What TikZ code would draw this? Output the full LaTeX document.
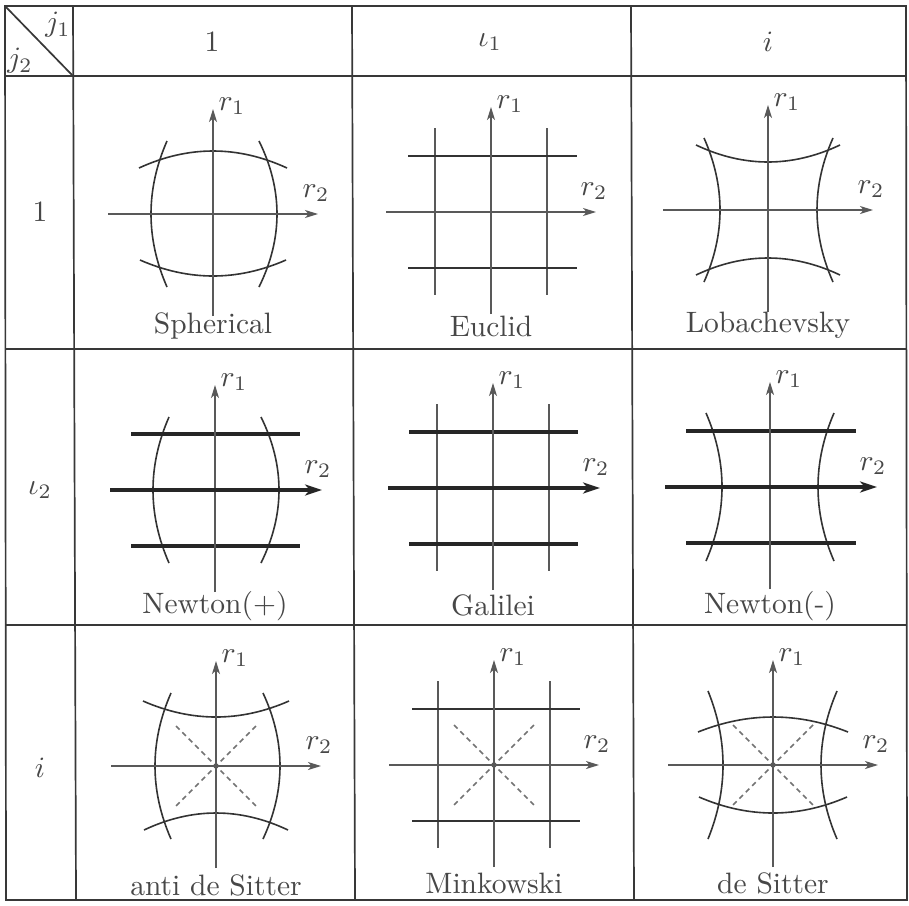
\documentclass[tikz,border=0pt]{standalone}
\usetikzlibrary{arrows.meta}
\newcommand{\myharc}[3]{\draw[curve] (-#3,#1) .. controls ({-(#3)/3},{(4*(#2)-(#1))/3}) and ({(#3)/3},{(4*(#2)-(#1))/3}) .. (#3,#1);}
\newcommand{\myvarc}[3]{\draw[curve] (#1,-#3) .. controls ({(4*(#2)-(#1))/3},{-(#3)/3}) and ({(4*(#2)-(#1))/3},{(#3)/3}) .. (#1,#3);}
\tikzset{
 tbl/.style={line width=1.7pt, draw=black!78},
 axisline/.style={line width=1.4pt, draw=black!65, -{Stealth[length=13pt,width=8pt,inset=3.5pt]}},
 thickaxis/.style={line width=3.2pt, draw=black!85, -{Stealth[length=17pt,width=11pt,inset=5pt]}},
 curve/.style={line width=1.6pt, draw=black!80},
 gridv/.style={line width=1.5pt, draw=black!65},
 gridh/.style={line width=1.6pt, draw=black!80},
 thickline/.style={line width=3.2pt, draw=black!85},
 diagline/.style={line width=1.6pt, draw=black!55, dash pattern=on 5pt off 4pt},
 lbl/.style={scale=2.95, text=black!72, inner sep=0pt},
}
\newcommand{\myaxes}[1]{%
 \draw[axisline] (0,102) -- (0,-105);
 \draw[axisline] (-105,0) -- (105,0);
 \node[lbl] (#1r1) at (19,-108) {$r_1$};
 \node[lbl] (#1r2) at (103,-21) {$r_2$};}
\newcommand{\mythickaxes}[1]{%
 \draw[axisline] (0,102) -- (0,-105);
 \draw[thickaxis] (-105,0) -- (107,0);
 \node[lbl] (#1r1) at (19,-108) {$r_1$};
 \node[lbl] (#1r2) at (103,-21) {$r_2$};}
\newcommand{\mygrid}{%
 \draw[gridv] (-56,-84) -- (-56,83);
 \draw[gridv] (56,-84) -- (56,83);}
\newcommand{\mycross}{%
 \draw[diagline] (-40,-40) -- (40,40);
 \draw[diagline] (40,-40) -- (-40,40);
 \fill[black!65] (0,0) circle (2.6);}
\begin{document}
\begin{tikzpicture}[x=1pt,y=-1pt]
\useasboundingbox (0,0) rectangle (909,905);
\fill[white] (0,0) rectangle (909,905);
% table
\draw[tbl] (5,6) -- (906,6) -- (907,900) -- (6,900) -- cycle;
\draw[tbl] (73,6) -- (76,900);
\draw[tbl] (352,6) -- (355,900);
\draw[tbl] (631,6) -- (634,900);
\draw[tbl] (5,76) -- (906,76);
\draw[tbl] (5,349) -- (906,349);
\draw[tbl] (6,625) -- (907,625);
\draw[tbl] (5,6) -- (73,76);
\node[lbl] (j1) at (58,25) {$j_1$};
\node[lbl] (j2) at (20,61) {$j_2$};
% headers
\node[lbl] (c1) at (212,42) {$1$};
\node[lbl] (c2) at (490,42) {$\iota_1$};
\node[lbl] (c3) at (768,42) {$i$};
\node[lbl] (h1) at (40,212) {$1$};
\node[lbl] (h2) at (40,490) {$\iota_2$};
\node[lbl] (h3) at (40,768) {$i$};
% Spherical
\begin{scope}[shift={(213,214)}]
 \myharc{-46}{-63}{74}\myharc{46}{62}{73}
 \myvarc{-46}{-62}{73}\myvarc{46}{64}{73}
 \myaxes{a}
 \node[lbl,anchor=base] (sph) at (0,119) {Spherical};
\end{scope}
% Euclid
\begin{scope}[shift={(491,212)}]
 \mygrid
 \draw[gridh] (-83,-56) -- (86,-56);
 \draw[gridh] (-83,56) -- (86,56);
 \myaxes{b}
 \node[lbl,anchor=base] (euc) at (0,124) {Euclid};
\end{scope}
% Lobachevsky
\begin{scope}[shift={(768,210)}]
 \myharc{-65}{-48}{72}\myharc{65}{48}{72}
 \myvarc{-64}{-48}{72}\myvarc{65}{49}{72}
 \myaxes{c}
 \node[lbl,anchor=base] (lob) at (0,122) {Lobachevsky};
\end{scope}
% Newton(+)
\begin{scope}[shift={(215,490)}]
 \myvarc{-46}{-62}{73}\myvarc{46}{64}{73}
 \draw[thickline] (-84,-56) -- (85,-56);
 \draw[thickline] (-84,56) -- (85,56);
 \mythickaxes{d}
 \node[lbl,anchor=base] (npl) at (0,123) {Newton(+)};
\end{scope}
% Galilei
\begin{scope}[shift={(493,488)}]
 \mygrid
 \draw[thickline] (-84,-56) -- (85,-56);
 \draw[thickline] (-84,56) -- (85,56);
 \mythickaxes{e}
 \node[lbl,anchor=base] (gal) at (0,127) {Galilei};
\end{scope}
% Newton(-)
\begin{scope}[shift={(770,487)}]
 \myvarc{-64}{-48}{74}\myvarc{64}{48}{74}
 \draw[thickline] (-84,-56) -- (86,-56);
 \draw[thickline] (-84,56) -- (86,56);
 \mythickaxes{f}
 \node[lbl,anchor=base] (nmi) at (0,126) {Newton(-)};
\end{scope}
% anti de Sitter
\begin{scope}[shift={(216,766)}]
 \myharc{-65}{-49}{73}\myharc{64}{47}{72}
 \myvarc{-45}{-61}{73}\myvarc{47}{64}{73}
 \mycross
 \myaxes{g}
 \node[lbl,anchor=base] (ads) at (0,129) {anti de Sitter};
\end{scope}
% Minkowski
\begin{scope}[shift={(494,765)}]
 \mygrid
 \draw[gridh] (-82,-56) -- (86,-56);
 \draw[gridh] (-82,56) -- (86,56);
 \mycross
 \myaxes{h}
 \node[lbl,anchor=base] (min) at (0,128) {Minkowski};
\end{scope}
% de Sitter
\begin{scope}[shift={(773,765)}]
 \myharc{-33}{-48}{75}\myharc{32}{48}{74}
 \myvarc{-65}{-50}{74}\myvarc{64}{48}{74}
 \mycross
 \myaxes{k}
 \node[lbl,anchor=base] (ds) at (0,128) {de Sitter};
\end{scope}
\end{tikzpicture}
\end{document}
